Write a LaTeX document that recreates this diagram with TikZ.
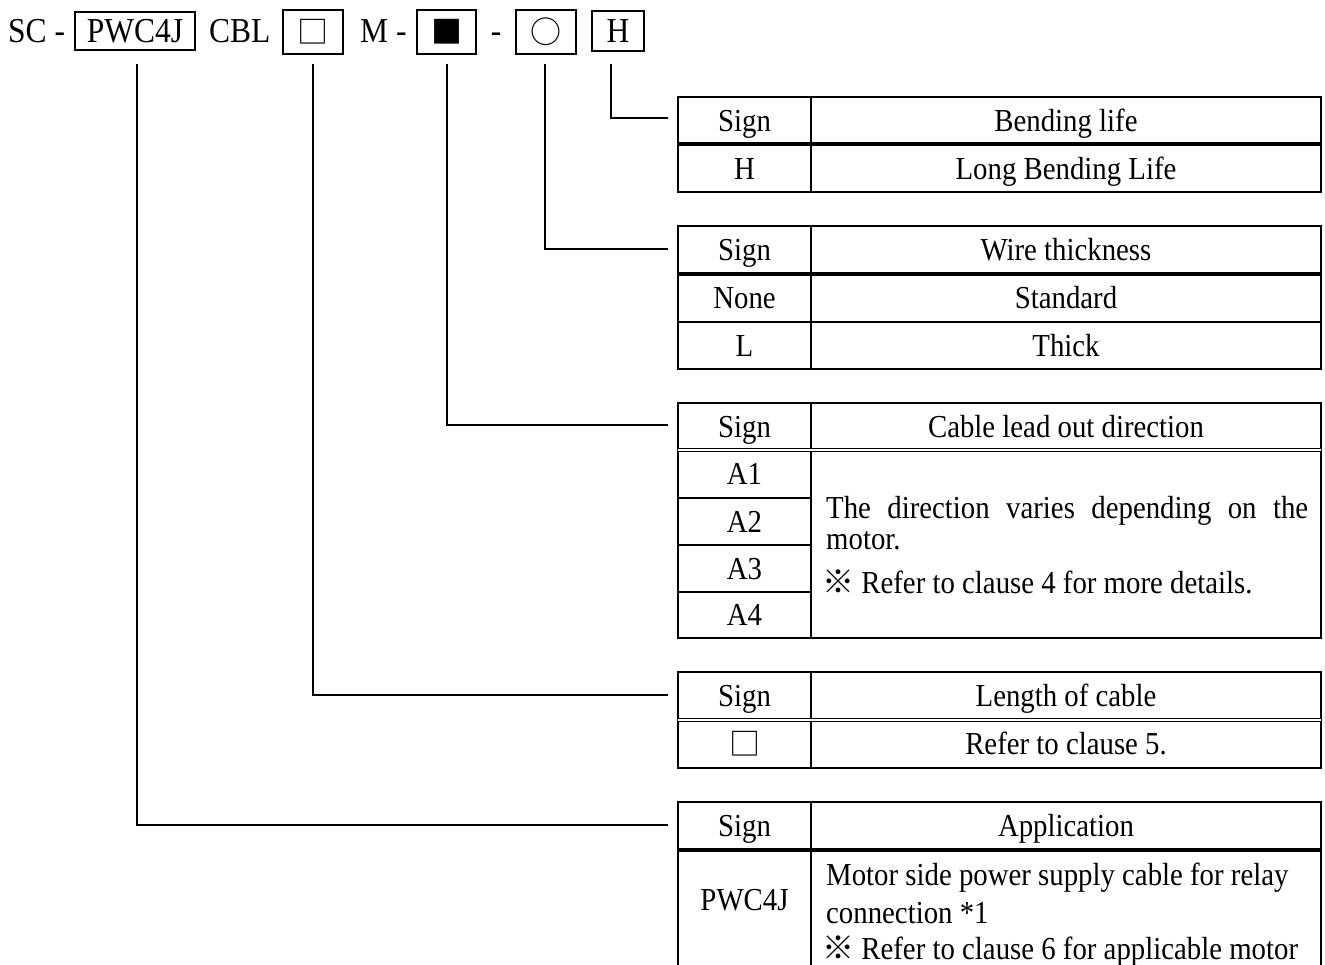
\documentclass[tikz,border=0pt]{standalone}
\usepackage{fontspec}
\setmainfont[FakeStretch=0.9]{Liberation Serif}
\newfontfamily\cjk{Noto Sans CJK JP}
\newcommand{\hdfont}{\fontsize{35}{40}\selectfont}
\newcommand{\tbfont}{\fontsize{32}{38}\selectfont}
\newcommand{\symfont}{\cjk\fontsize{31}{34}\selectfont}
\newcommand{\refmark}{{\cjk ※}}
\begin{document}
\begin{tikzpicture}[x=1pt,y=-1pt,
  tblline/.style={line width=2pt},
  septhick/.style={line width=4pt},
  sepdouble/.style={double, double distance=1.6pt, line width=1.3pt},
  leader/.style={line width=1.8pt},
  hdtext/.style={anchor=base, inner sep=0pt, font=\hdfont},
  hdbox/.style={hdtext, draw, line width=2pt, text height=23pt, text depth=0pt},
  cell/.style={anchor=base, inner sep=0pt, font=\tbfont},
  bodytext/.style={anchor=base west, inner sep=0pt, font=\tbfont},
]
\clip (0,0) rectangle (1325,964);

% ---------- code line ----------
\node[hdtext, anchor=base west] (sc) at (8,42) {SC -};
\node[hdbox, minimum width=120pt, minimum height=38pt] (bpw) at (135,42) {PWC4J};
\node[hdtext, anchor=base west] (cbl) at (209,42) {CBL};
\node[hdbox, minimum width=60pt, minimum height=44pt] (blen) at (313,43) {\symfont □};
\node[hdtext, anchor=base west] (mm) at (360,42) {M -};
\node[hdbox, minimum width=59pt, minimum height=44pt] (bdir) at (446.5,43) {\symfont ■};
\node[hdtext] (dash) at (496,42) {-};
\node[hdbox, minimum width=60pt, minimum height=44pt] (bwire) at (546,43) {\symfont ○};
\node[hdbox, minimum width=52pt, minimum height=40pt] (bbend) at (618,42) {H};

% ---------- table 1 : bending life ----------
\draw[tblline] (678,97) rectangle (1321,192);
\draw[tblline] (811,97) -- (811,192);
\draw[septhick] (678,144) -- (1321,144);
\node[cell] (t1s) at (744.5,131) {Sign};
\node[cell] (t1h) at (1066,131) {Bending life};
\node[cell] (t1a) at (744.5,179) {H};
\node[cell] (t1b) at (1066,179) {Long Bending Life};

% ---------- table 2 : wire thickness ----------
\draw[tblline] (678,226) rectangle (1321,369);
\draw[tblline] (811,226) -- (811,369);
\draw[septhick] (678,274) -- (1321,274);
\draw[tblline] (678,322) -- (1321,322);
\node[cell] (t2s) at (744.5,260.5) {Sign};
\node[cell] (t2h) at (1066,260.5) {Wire thickness};
\node[cell] (t2a) at (744.5,308.5) {None};
\node[cell] (t2b) at (1066,308.5) {Standard};
\node[cell] (t2c) at (744.5,356) {L};
\node[cell] (t2d) at (1066,356) {Thick};

% ---------- table 3 : cable lead out direction ----------
\draw[tblline] (678,403) rectangle (1321,638);
\draw[tblline] (811,403) -- (811,638);
\draw[sepdouble] (678,450) -- (1321,450);
\draw[tblline] (678,498) -- (811,498);
\draw[tblline] (678,545) -- (811,545);
\draw[tblline] (678,592) -- (811,592);
\node[cell] (t3s) at (744.5,437) {Sign};
\node[cell] (t3h) at (1066,437) {Cable lead out direction};
\node[cell] (t3a) at (744.5,484.5) {A1};
\node[cell] (t3b) at (744.5,532) {A2};
\node[cell] (t3c) at (744.5,579) {A3};
\node[cell] (t3d) at (744.5,625.5) {A4};
\node[bodytext] (t3l1) at (826,518) {\makebox[482pt][s]{The direction varies depending on the}};
\node[bodytext] (t3l2) at (826,549) {motor.};
\node[bodytext] (t3l3) at (822,593) {\refmark\ Refer to clause 4 for more details.};

% ---------- table 4 : length of cable ----------
\draw[tblline] (678,672) rectangle (1321,768);
\draw[tblline] (811,672) -- (811,768);
\draw[sepdouble] (678,720) -- (1321,720);
\node[cell] (t4s) at (744.5,706.5) {Sign};
\node[cell] (t4h) at (1066,706.5) {Length of cable};
\node[cell] (t4a) at (744.5,755.5) {\symfont □};
\node[cell] (t4b) at (1066,754.5) {Refer to clause 5.};

% ---------- table 5 : application ----------
\draw[tblline] (678,802) rectangle (1321,1000);
\draw[tblline] (811,802) -- (811,1000);
\draw[septhick] (678,850) -- (1321,850);
\node[cell] (t5s) at (744.5,836.5) {Sign};
\node[cell] (t5h) at (1066,836.5) {Application};
\node[cell] (t5a) at (744.5,910) {PWC4J};
\node[bodytext] (t5l1) at (826,885) {Motor side power supply cable for relay};
\node[bodytext] (t5l2) at (826,923) {connection *1};
\node[bodytext] (t5l3) at (822,959) {\refmark\ Refer to clause 6 for applicable motor};

% ---------- leaders ----------
\coordinate (hA) at (611,64);  \coordinate (hB) at (668,118);
\coordinate (wA) at (545,64);  \coordinate (wB) at (668,249);
\coordinate (dA) at (447,64);  \coordinate (dB) at (668,425);
\coordinate (lA) at (313,64);  \coordinate (lB) at (668,695);
\coordinate (pA) at (137,64);  \coordinate (pB) at (668,825);
\draw[leader] (hA) |- (hB);
\draw[leader] (wA) |- (wB);
\draw[leader] (dA) |- (dB);
\draw[leader] (lA) |- (lB);
\draw[leader] (pA) |- (pB);
\end{tikzpicture}
\end{document}
